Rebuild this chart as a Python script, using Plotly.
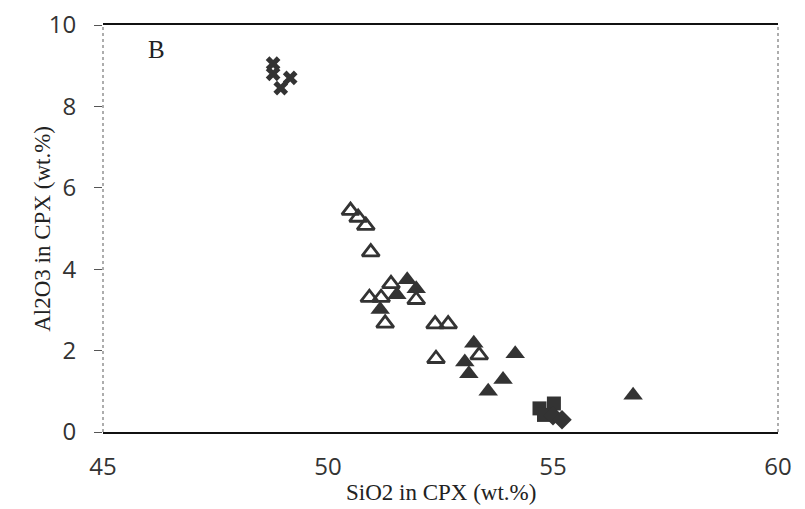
import plotly.graph_objects as go

# open triangles
open_tri_x = [50.5, 50.67, 50.84, 50.95, 51.4, 50.92, 51.18, 51.96, 51.27, 52.38, 52.67, 52.4, 53.36]
open_tri_y = [5.44, 5.27, 5.07, 4.42, 3.64, 3.3, 3.3, 3.25, 2.67, 2.65, 2.65, 1.8, 1.89]

# filled triangles
fill_tri_x = [51.76, 51.96, 51.53, 51.16, 53.24, 54.16, 53.04, 53.13, 53.89, 53.56, 56.78]
fill_tri_y = [3.74, 3.52, 3.37, 3.01, 2.18, 1.92, 1.72, 1.43, 1.29, 1.0, 0.9]

# crosses
cross_x = [48.78, 48.78, 49.16, 48.95]
cross_y = [9.05, 8.8, 8.7, 8.45]

# squares and diamonds
square_x = [54.7, 55.02, 54.8]
square_y = [0.58, 0.7, 0.42]
diamond_x = [55.0, 55.2]
diamond_y = [0.4, 0.3]

ink = "#333333"

fig = go.Figure()
fig.add_trace(go.Scatter(x=open_tri_x, y=open_tri_y, mode="markers",
                         marker=dict(symbol="triangle-up-open", size=15, color=ink,
                                     line=dict(width=2.8, color=ink))))
fig.add_trace(go.Scatter(x=fill_tri_x, y=fill_tri_y, mode="markers",
                         marker=dict(symbol="triangle-up", size=17, color=ink,
                                     line=dict(width=0))))
fig.add_trace(go.Scatter(x=cross_x, y=cross_y, mode="markers",
                         marker=dict(symbol="x", size=13, color=ink, line=dict(width=0))))
fig.add_trace(go.Scatter(x=square_x, y=square_y, mode="markers",
                         marker=dict(symbol="square", size=14, color=ink, line=dict(width=0))))
fig.add_trace(go.Scatter(x=diamond_x, y=diamond_y, mode="markers",
                         marker=dict(symbol="diamond", size=15, color=ink, line=dict(width=0))))

tick_font = dict(family="Open Sans, DejaVu Sans, sans-serif", size=24, color="#333")
serif = "Liberation Serif, Times New Roman, serif"
title_font = dict(family=serif, size=23, color="#222")

# the page has an 8px body margin, so margins are shifted to compensate
fig.update_layout(
    width=805, height=509,
    margin=dict(l=95, r=35, t=17, b=85),
    plot_bgcolor="white", paper_bgcolor="white",
    showlegend=False,
    xaxis=dict(range=[45, 60], tickvals=[45, 50, 55, 60], showgrid=False, zeroline=False,
               showline=True, linecolor="#111", linewidth=2, mirror=True, automargin=False,
               ticks="", ticklabelstandoff=12, tickfont=tick_font, ticklabeloverflow="allow"),
    yaxis=dict(range=[0, 10], tickvals=[0, 2, 4, 6, 8, 10], showgrid=False, zeroline=False,
               showline=False, ticks="outside", ticklen=8, tickcolor="#555", automargin=False,
               ticklabelstandoff=13, tickfont=tick_font, ticklabeloverflow="allow"),
    shapes=[
        dict(type="line", xref="paper", yref="paper", x0=0, x1=0, y0=0, y1=1,
             line=dict(color="#777", width=1.2, dash="dot")),
        dict(type="line", xref="paper", yref="paper", x0=1, x1=1, y0=0, y1=1,
             line=dict(color="#777", width=1.2, dash="dot")),
    ],
    annotations=[
        dict(text="B", xref="paper", yref="paper", x=0.064, y=0.977, showarrow=False,
             font=dict(family=serif, size=25, color="#222")),
        dict(text="SiO2 in CPX (wt.%)", xref="paper", yref="paper", x=0.5, y=-0.148,
             xanchor="center", yanchor="middle", showarrow=False, font=title_font),
        dict(text="Al2O3 in CPX (wt.%)", xref="paper", yref="paper", x=-0.09, y=0.5,
             xanchor="center", yanchor="middle", textangle=-90, showarrow=False, font=title_font),
    ],
)

fig.write_html("out.html")
